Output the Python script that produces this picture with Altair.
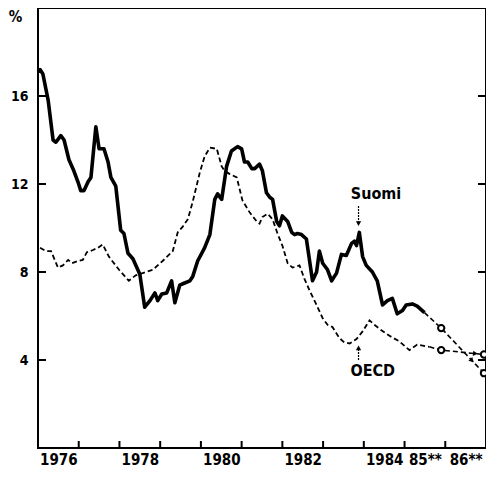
import altair as alt
import pandas as pd
import math

# ---------------- data ----------------
suomi_x = [1976.00, 1976.05, 1976.12, 1976.25, 1976.37, 1976.44, 1976.56, 1976.64, 1976.76, 1976.88,
           1976.98, 1977.05, 1977.13, 1977.23, 1977.30, 1977.42, 1977.50, 1977.62, 1977.72, 1977.79,
           1977.91, 1978.03, 1978.11, 1978.21, 1978.33, 1978.50, 1978.62, 1978.75, 1978.87, 1978.94,
           1979.04, 1979.16, 1979.28, 1979.36, 1979.48, 1979.60, 1979.73, 1979.80, 1979.92, 1980.09,
           1980.22, 1980.34, 1980.41, 1980.51, 1980.63, 1980.75, 1980.90, 1981.00, 1981.07, 1981.15,
           1981.25, 1981.32, 1981.44, 1981.51, 1981.61, 1981.69, 1981.76, 1981.86, 1981.93, 1982.00,
           1982.13, 1982.23, 1982.30, 1982.37, 1982.47, 1982.59, 1982.74, 1982.84, 1982.91, 1982.99,
           1983.11, 1983.21, 1983.33, 1983.45, 1983.57, 1983.70, 1983.77, 1983.82, 1983.89, 1983.97,
           1984.06, 1984.21, 1984.33, 1984.46, 1984.58, 1984.70, 1984.82, 1984.95, 1985.04, 1985.19,
           1985.31, 1985.49]
suomi_y = [17.1, 17.2, 17.0, 15.8, 14.0, 13.9, 14.2, 14.0, 13.1, 12.6,
           12.1, 11.7, 11.7, 12.1, 12.3, 14.6, 13.6, 13.6, 13.0, 12.3,
           11.9, 9.9, 9.75, 8.85, 8.6, 7.9, 6.4, 6.7, 7.05, 6.7,
           7.0, 7.05, 7.6, 6.6, 7.4, 7.5, 7.6, 7.8, 8.5, 9.1,
           9.7, 11.3, 11.55, 11.3, 12.8, 13.5, 13.7, 13.6, 13.0, 13.0,
           12.7, 12.7, 12.9, 12.6, 11.6, 11.4, 11.3, 10.3, 10.1, 10.55,
           10.3, 9.8, 9.7, 9.75, 9.7, 9.5, 7.6, 8.0, 8.95, 8.4,
           8.1, 7.6, 7.95, 8.8, 8.75, 9.3, 9.4, 9.2, 9.8, 8.7,
           8.3, 8.0, 7.6, 6.5, 6.7, 6.8, 6.1, 6.25, 6.5, 6.55,
           6.45, 6.15]

oecd_x = [1976.05, 1976.20, 1976.32, 1976.49, 1976.61, 1976.74, 1976.83, 1976.98, 1977.10, 1977.20,
          1977.35, 1977.47, 1977.59, 1977.74, 1977.99, 1978.23, 1978.40, 1978.57, 1978.82, 1979.06,
          1979.31, 1979.43, 1979.55, 1979.68, 1979.80, 1979.97, 1980.09, 1980.22, 1980.39, 1980.51,
          1980.58, 1980.71, 1980.88, 1981.02, 1981.20, 1981.37, 1981.44, 1981.51, 1981.64, 1981.76,
          1981.88, 1982.00, 1982.13, 1982.25, 1982.42, 1982.54, 1982.67, 1982.84, 1982.99, 1983.11,
          1983.23, 1983.40, 1983.52, 1983.65, 1983.82, 1983.97, 1984.14, 1984.26, 1984.43, 1984.63,
          1984.87, 1985.12, 1985.31, 1985.61]
oecd_y = [9.1, 8.95, 8.95, 8.2, 8.3, 8.55, 8.4, 8.5, 8.55, 8.9,
          9.0, 9.1, 9.25, 8.7, 8.1, 7.6, 7.85, 7.95, 8.1, 8.5,
          8.95, 9.8, 10.05, 10.4, 11.2, 12.5, 13.25, 13.65, 13.6, 12.8,
          12.6, 12.45, 12.3, 11.25, 10.7, 10.3, 10.2, 10.5, 10.65, 10.4,
          9.75, 9.2, 8.4, 8.2, 8.3, 7.7, 7.15, 6.5, 5.9, 5.6,
          5.5, 5.0, 4.8, 4.75, 4.95, 5.3, 5.8, 5.6, 5.35, 5.1,
          4.85, 4.45, 4.7, 4.6]

# forecasts (1985**, 1986**)
forecast_x = [1985.90, 1986.95]
suomi_forecast = [5.45, 3.4]
oecd_forecast = [4.45, 4.25]

x_label_pos = [1976.5, 1978.5, 1980.5, 1982.5, 1984.5, 1985.5, 1986.5]
x_label_text = ["1976", "1978", "1980", "1982", "1984", "85**", "86**"]
x_tick_pos = [1977, 1978, 1979, 1980, 1981, 1982, 1983, 1984, 1985, 1986]
y_ticks = [4, 8, 12, 16]

# annotations
ann_text = ["Suomi", "OECD"]
ann_x = [1984.3, 1984.22]
ann_y = [11.55, 3.5]
ann_arrow_x = [1983.87, 1983.87]
ann_arrow_from = [11.0, 4.0]
ann_arrow_to = [10.2, 4.55]

W, H = 448, 440
FONT = "DejaVu Sans Condensed, Liberation Sans Narrow, sans-serif"

# ---------------- tables ----------------
suomi_df = pd.DataFrame({"x": suomi_x, "y": suomi_y})
oecd_df = pd.DataFrame({"x": oecd_x, "y": oecd_y})

proj_rows = []
proj_rows.append({"s": "Suomi", "o": 0, "x": suomi_x[-1], "y": suomi_y[-1]})
proj_rows.append({"s": "OECD", "o": 0, "x": oecd_x[-1], "y": oecd_y[-1]})
for i, fx in enumerate(forecast_x):
    proj_rows.append({"s": "Suomi", "o": i + 1, "x": fx, "y": suomi_forecast[i]})
    proj_rows.append({"s": "OECD", "o": i + 1, "x": fx, "y": oecd_forecast[i]})
proj_df = pd.DataFrame(proj_rows)

circ_df = pd.DataFrame({"x": forecast_x * 2, "y": suomi_forecast + oecd_forecast})

# arrowheads on the last forecast segment (pixel geometry for angle)
px_per_x = W / 11.0
px_per_y = H / 20.0
heads = []
for fc, t in ((suomi_forecast, 0.72), (oecd_forecast, 0.8)):
    x0, x1 = forecast_x
    y0, y1 = fc
    hx = x0 + (x1 - x0) * t
    hy = y0 + (y1 - y0) * t
    dx = (x1 - x0) * px_per_x
    dy = -(y1 - y0) * px_per_y  # screen down positive
    ang = (math.degrees(math.atan2(dy, dx)) + 90) % 360
    heads.append({"x": hx, "y": hy, "a": ang})
head_df = pd.DataFrame(heads)

ann_df = pd.DataFrame({"t": ann_text, "x": ann_x, "y": ann_y})
ann_arrow_df = pd.DataFrame({"x": ann_arrow_x, "y": ann_arrow_from, "y2": ann_arrow_to})
ann_head_df = pd.DataFrame({"x": ann_arrow_x, "y": ann_arrow_to,
                            "a": [180 if b < a else 0 for a, b in zip(ann_arrow_from, ann_arrow_to)]})

label_expr = " : ".join(f"datum.value == {p} ? '{t}'" for p, t in zip(x_label_pos, x_label_text)) + " : ''"

xs = alt.Scale(domain=[1976, 1987], nice=False, zero=False)
ys = alt.Scale(domain=[0, 20], nice=False, zero=False)

x_axis = alt.Axis(values=x_label_pos, labelExpr=label_expr, ticks=False, domain=False, grid=False,
                  title=None, labelPadding=4, labelFontSize=15, labelFontWeight="bold",
                  labelFont=FONT, labelColor="black", labelAngle=0)
y_axis = alt.Axis(values=y_ticks, ticks=False, domain=False, grid=False, labelPadding=10,
                  labelFontSize=14, labelFontWeight="bold", labelFont=FONT, labelColor="black",
                  title="%", titleAngle=0, titleX=-23, titleY=1, titleAlign="center",
                  titleBaseline="top", titleFontSize=15, titleFontWeight="bold",
                  titleFont=FONT, titleColor="black")

X = alt.X("x:Q", scale=xs, axis=x_axis)
Y = alt.Y("y:Q", scale=ys, axis=y_axis)

suomi = alt.Chart(suomi_df).mark_line(color="black", strokeWidth=3.6, strokeJoin="round").encode(x=X, y=Y)
oecd = alt.Chart(oecd_df).mark_line(color="black", strokeWidth=1.8, strokeDash=[5, 3]).encode(x=X, y=Y)
proj = alt.Chart(proj_df).mark_line(color="black", strokeWidth=1.6, strokeDash=[5, 3]).encode(
    x=X, y=Y, detail="s:N", order="o:O")
circ = alt.Chart(circ_df).mark_point(shape="circle", filled=True, fill="white", stroke="black",
                                     strokeWidth=2, size=40, opacity=1).encode(x=X, y=Y)
head = alt.Chart(head_df).mark_point(shape="triangle-up", filled=True, color="black", size=30, opacity=1).encode(
    x=X, y=Y, angle=alt.Angle("a:Q", scale=None))

ann = alt.Chart(ann_df).mark_text(font=FONT, fontSize=16, fontWeight="bold", color="black").encode(
    x=X, y=Y, text="t:N")
ann_shaft = alt.Chart(ann_arrow_df).mark_rule(color="black", strokeWidth=1.2, strokeDash=[2, 1]).encode(
    x=X, y=Y, y2="y2:Q")
ann_head = alt.Chart(ann_head_df).mark_point(shape="triangle-up", filled=True, color="black", size=28, opacity=1).encode(
    x=X, y=Y, angle=alt.Angle("a:Q", scale=None))

xt_df = pd.DataFrame({"x": x_tick_pos})
x_ticks = alt.Chart(xt_df).mark_rule(color="black", strokeWidth=2).encode(
    x=X, y=alt.value(H), y2=alt.value(H - 7))
yt_df = pd.DataFrame({"y": y_ticks})
yl_ticks = alt.Chart(yt_df).mark_rule(color="black", strokeWidth=2).encode(
    y=Y, x=alt.value(0), x2=alt.value(8))
yr_ticks = alt.Chart(yt_df).mark_rule(color="black", strokeWidth=2).encode(
    y=Y, x=alt.value(W), x2=alt.value(W - 8))

chart = alt.layer(suomi, oecd, proj, circ, head, ann, ann_shaft, ann_head, x_ticks, yl_ticks, yr_ticks).properties(
    width=W, height=H,
    padding={"left": 30, "top": 0, "right": 0, "bottom": 21},
    autosize=alt.AutoSizeParams(type="none"),
    background="white",
).configure_view(stroke="black", strokeWidth=2)

chart.save("out.html", embed_options={"renderer": "svg", "actions": False})
